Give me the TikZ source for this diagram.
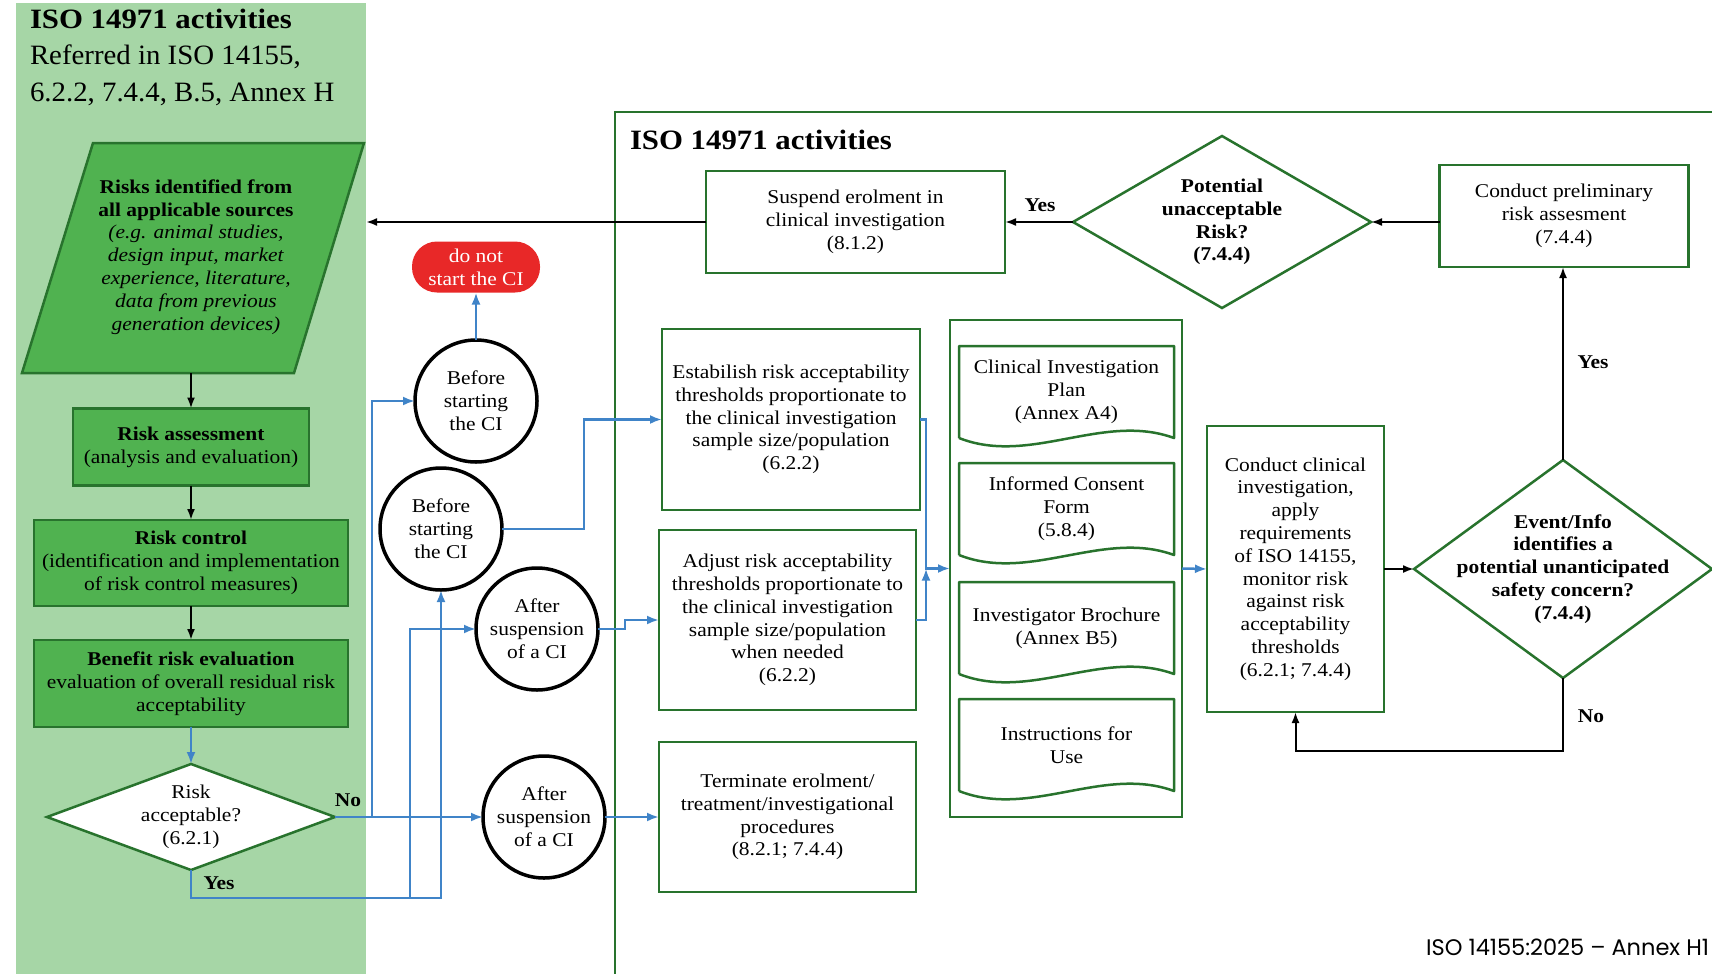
\documentclass[tikz,border=0pt]{standalone}
\usepackage{fontspec}
\setmainfont{Liberation Serif}[FakeStretch=1.1]
\newfontfamily\subfont{Liberation Serif}[FakeStretch=1.03]
\newfontfamily\footfont{Poppins}
\usetikzlibrary{arrows.meta,shapes.geometric,calc}

\definecolor{panelgreen}{RGB}{166,214,166}
\definecolor{boxgreen}{RGB}{80,178,80}
\definecolor{edgegreen}{RGB}{40,115,45}
\definecolor{linkblue}{RGB}{64,132,200}
\definecolor{stopred}{RGB}{232,40,40}

\newcommand{\txtsize}{\fontsize{19.5}{22.8}\selectfont}
\newcommand{\titlesize}{\fontsize{28}{36}\selectfont}

\begin{document}
\begin{tikzpicture}[x=1pt,y=-1pt,
  every node/.style={inner sep=0pt, outer sep=0pt, align=center, font=\txtsize},
  gbox/.style={rectangle, draw=edgegreen, fill=boxgreen, line width=2.5pt},
  wbox/.style={rectangle, draw=edgegreen, fill=white, line width=2.5pt},
  decision/.style={diamond, draw=edgegreen, fill=white, line width=2.5pt},
  stage/.style={circle, draw=black, fill=white, line width=3.5pt, minimum size=122pt},
  docbody/.style={rectangle, minimum width=215pt, minimum height=92pt},
  docline/.style={draw=edgegreen, line width=2.5pt, line join=round},
  blkarrow/.style={draw=black, line width=2pt, -{Latex[length=11pt,width=8pt]}},
  bluarrow/.style={draw=linkblue, line width=2.5pt, -{Latex[length=12pt,width=9pt]}},
  bluline/.style={draw=linkblue, line width=2.5pt},
  answer/.style={font=\txtsize\bfseries},
  heading/.style={anchor=base west, font=\titlesize},
]
\useasboundingbox (0,0) rectangle (1712,974);

% ---------- left column: risk management process ----------
\node[rectangle, fill=panelgreen, minimum width=350pt, minimum height=971pt, anchor=north west] (panel) at (16,3) {};
\node[heading, font=\titlesize\bfseries] (lttl) at (30,29) {ISO 14971 activities};
\node[heading, font=\titlesize\subfont] (lsub1) at (30,64) {Referred in ISO 14155,};
\node[heading, font=\titlesize\subfont] (lsub2) at (30,101) {6.2.2, 7.4.4, B.5, Annex H};

\filldraw[draw=edgegreen, fill=boxgreen, line width=2.5pt, line join=miter]
  (93,143) -- (364,143) -- (294,373) -- (22,373) -- cycle;
\node (src) at (196,257) {\textbf{Risks identified from}\\\textbf{all applicable sources}\\
  \textit{(e.g. animal studies,}\\\textit{design input, market}\\\textit{experience, literature,}\\
  \textit{data from previous}\\\textit{generation devices)}};
\coordinate (srcfoot) at (191,373);

\node[gbox, minimum width=236pt, minimum height=77pt] (rassess) at (191,447)
  {\textbf{Risk assessment}\\(analysis and evaluation)};
\node[gbox, minimum width=314pt, minimum height=86pt] (rctrl) at (191,563)
  {\textbf{Risk control}\\(identification and implementation\\of risk control measures)};
\node[gbox, minimum width=314pt, minimum height=87pt] (bre) at (191,683.5)
  {\textbf{Benefit risk evaluation}\\evaluation of overall residual risk\\acceptability};
\node[decision, minimum width=288pt, minimum height=106pt] (racc) at (191,817) {};
\node (racctxt) at (racc) {Risk\\acceptable?\\(6.2.1)};

\draw[blkarrow] (srcfoot) -- (rassess.north);
\draw[blkarrow] (rassess.south) -- (rctrl.north);
\draw[blkarrow] (rctrl.south) -- (bre.north);
\draw[bluarrow] (bre.south) -- (racc.north);

\node[answer] (no1) at (348,800) {No};
\node[answer] (yes3) at (219,883) {Yes};

% ---------- stage circles ----------
\node[stage] (c1) at (476,401) {Before\\starting\\the CI};
\node[stage] (c2) at (441,529) {Before\\starting\\the CI};
\node[stage] (c3) at (537,629) {After\\suspension\\of a CI};
\node[stage] (c4) at (544,817) {After\\suspension\\of a CI};
\node[rectangle, fill=stopred, rounded corners=25pt, minimum width=128pt, minimum height=51pt, text=white]
  (stop) at (476,267) {do not\\start the CI};

\coordinate (nofork) at (372,817);
\coordinate (yesturn) at (191,898);
\coordinate (yesfork) at (410,898);
\draw[bluarrow] (c1.north) -- (stop.south);
\draw[bluarrow] (racc.east) -- (c4.west);
\draw[bluarrow] (nofork) |- (c1.west);
\draw[bluarrow] (racc.south) -- (yesturn) -| (c2.south);
\draw[bluarrow] (yesfork) |- (c3.west);

% ---------- ISO 14971 activities frame ----------
\draw[edgegreen, line width=2.5pt] (1712,112) -- (615,112) -- (615,974);
\node[heading, font=\titlesize\bfseries] (rttl) at (630,149) {ISO 14971 activities};

\node[wbox, minimum width=258pt, minimum height=181pt] (estab) at (791,419.5)
  {Estabilish risk acceptability\\thresholds proportionate to\\the clinical investigation\\sample size/population\\(6.2.2)};
\node[wbox, minimum width=257pt, minimum height=180pt] (adjust) at (787.5,620)
  {Adjust risk acceptability\\thresholds proportionate to\\the clinical investigation\\sample size/population\\when needed\\(6.2.2)};
\node[wbox, minimum width=257pt, minimum height=150pt] (term) at (787.5,817)
  {Terminate erolment/\\treatment/investigational\\procedures\\(8.2.1; 7.4.4)};

\draw[bluarrow] (c2.east) -- ++(82,0) |- (estab.west);
\draw[bluarrow] (c3.east) -- ++(27,0) |- (adjust.west);
\draw[bluarrow] (c4.east) -- (term.west);

% documents group
\node[wbox, minimum width=232pt, minimum height=497pt] (docs) at (1066,568.5) {};
\node[docbody] (plan) at (1066.5,392) {Clinical Investigation\\Plan\\(Annex A4)};
\node[docbody] (icf) at (1066.5,509) {Informed Consent\\Form\\(5.8.4)};
\node[docbody] (ib) at (1066.5,628) {Investigator Brochure\\(Annex B5)};
\node[docbody] (ifu) at (1066.5,745) {Instructions for\\Use};
\foreach \d in {plan,icf,ib,ifu}{
  \draw[docline] (\d.south west) -- (\d.north west) -- (\d.north east) -- (\d.south east)
    .. controls +(-71,-26) and +(71,28) .. (\d.south west);
}

\coordinate (merge) at (926,568.5);
\draw[bluarrow] (estab.east) -| (merge) -- (docs.west);
\draw[bluarrow] (adjust.east) -| (merge);

% monitoring loop
\node[wbox, minimum width=177pt, minimum height=286pt] (conduct) at (1295.5,569)
  {Conduct clinical\\investigation,\\apply\\requirements\\of ISO 14155,\\monitor risk\\against risk\\acceptability\\thresholds\\(6.2.1; 7.4.4)};
\draw[bluarrow] (docs.east) -- (conduct.west);

\node[decision, minimum width=298pt, minimum height=218pt] (event) at (1563,569) {};
\node[answer] (eventtxt) at (event) {Event/Info\\identifies a\\potential unanticipated\\safety concern?\\(7.4.4)};
\draw[blkarrow] (conduct.east) -- (event.west);

\coordinate (noturn) at (1563,751);
\draw[blkarrow] (event.south) -- (noturn) -| (conduct.south);
\node[answer] (no2) at (1591,716) {No};

\node[wbox, minimum width=249pt, minimum height=102pt] (prelim) at (1564,216)
  {Conduct preliminary\\risk assesment\\(7.4.4)};
\draw[blkarrow] (event.north) -- (event.north |- prelim.south);
\node[answer] (yes2) at (1593,362) {Yes};

\node[decision, minimum width=298pt, minimum height=172pt] (pua) at (1222,222) {};
\node[answer] (puatxt) at (pua) {Potential\\unacceptable\\Risk?\\(7.4.4)};
\draw[blkarrow] (prelim.west |- pua.east) -- (pua.east);

\node[wbox, minimum width=299pt, minimum height=102pt] (susp) at (855.5,222)
  {Suspend erolment in\\clinical investigation\\(8.1.2)};
\draw[blkarrow] (pua.west) -- (susp.east);
\node[answer] (yes1) at (1040,205) {Yes};
\draw[blkarrow] (susp.west) -- (susp.west -| panel.east);

% footer
\node[anchor=base east, font=\footfont\fontsize{22.5}{26}\selectfont] (foot) at (1709,955) {ISO 14155:2025 – Annex H1};
\end{tikzpicture}
\end{document}
